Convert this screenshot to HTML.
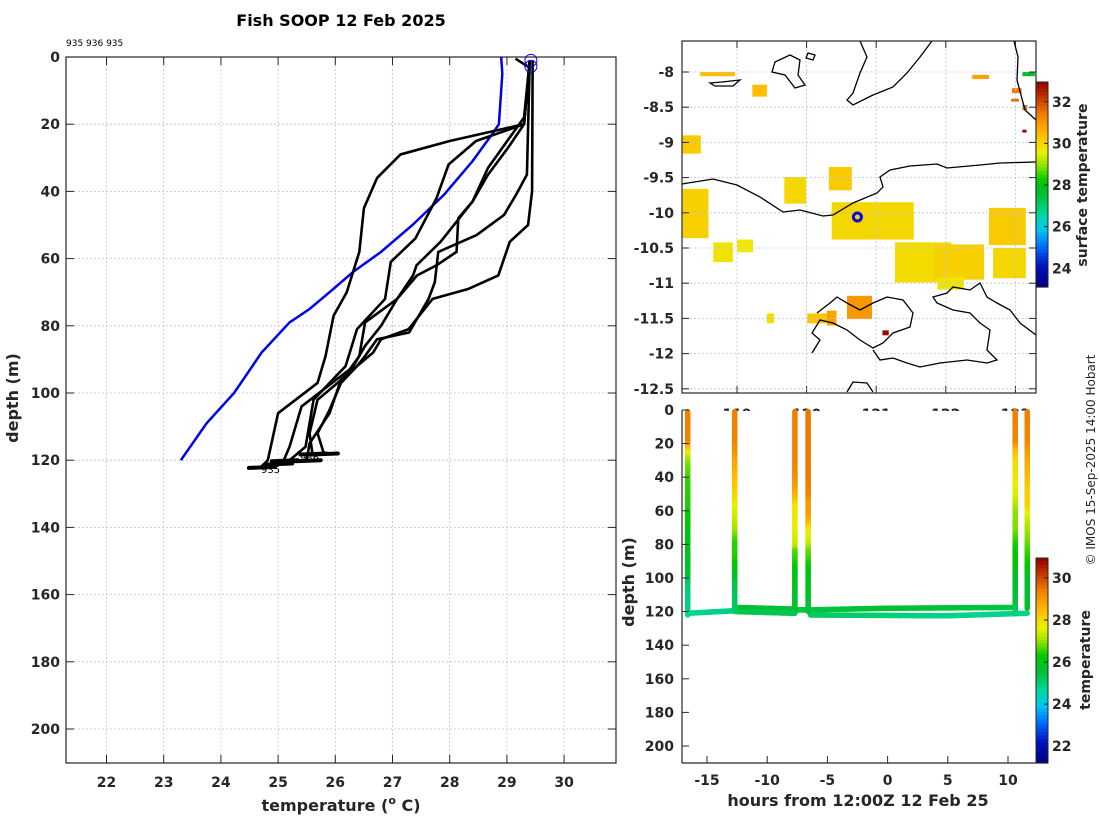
<!DOCTYPE html>
<html><head><meta charset="utf-8"><title>Fish SOOP 12 Feb 2025</title>
<style>
html,body{margin:0;padding:0;background:#fff;}
svg{display:block;font-family:"DejaVu Sans","Liberation Sans",sans-serif;}
.tk{font-size:14px;font-weight:bold;fill:#262626;}
.lbl{font-size:16px;font-weight:bold;fill:#262626;}
</style></head>
<body>
<svg id="fig" width="1100" height="820" viewBox="0 0 1100 820" xmlns="http://www.w3.org/2000/svg">
<rect x="0" y="0" width="1100" height="820" fill="#fff"/>
<text x="341" y="26" text-anchor="middle" style="font-size:16px;font-weight:bold;fill:#000">Fish SOOP 12 Feb 2025</text>
<text x="66" y="46" style="font-size:9px;fill:#000">935 936 935</text>
<g id="left"></g>
<g id="map"></g>
<g id="sect"></g>
<text class="lbl" transform="translate(18,398) rotate(-90)" text-anchor="middle">depth (m)</text>
<text class="lbl" x="341" y="811" text-anchor="middle">temperature (<tspan dy="-7" style="font-size:11px">o</tspan><tspan dy="7"> C)</tspan></text>
<text class="lbl" transform="translate(634,582) rotate(-90)" text-anchor="middle">depth (m)</text>
<text class="lbl" x="858" y="806" text-anchor="middle">hours from 12:00Z 12 Feb 25</text>
<text transform="translate(1087,185) rotate(-90)" text-anchor="middle" style="font-size:14px;font-weight:bold;fill:#262626">surface temperature</text>
<text transform="translate(1090,660) rotate(-90)" text-anchor="middle" style="font-size:14px;font-weight:bold;fill:#262626">temperature</text>
<text transform="translate(1095,460) rotate(-90)" text-anchor="middle" style="font-size:12px;fill:#262626">© IMOS 15-Sep-2025 14:00 Hobart</text>
</svg>
<script>
// ---------- data ----------
const tempTicks = [22,23,24,25,26,27,28,29,30];
const depthTicks = [0,20,40,60,80,100,120,140,160,180,200];
const climDepth = [0,5,20,23,31,41,50,58,64,70,75,79,88,100,109,120];
const climTemp  = [28.9,28.92,28.86,28.74,28.4,27.9,27.35,26.8,26.31,25.9,25.55,25.2,24.71,24.23,23.75,23.3];
const castDepth = [
 [1,20,25,29,36,45,58,70,77,89,97,106,120,122],
 [1,20,25,32,42,54,61,72,81,92,102,116,120,121],
 [1,40,50,55,65,69,72,81,84,88,96,106,115,120],
 [1,18,23,33,43,48,58,62,65,72,80,86,94,102,112,118],
 [1,35,41,47,53,58,67,72,82,84,89,92,97,105,112,118],
 [1,20,27,35,43,49,55,62,65,72,79,89,93,104,116,120]
];
const castTemp = [
 [29.4,29.3,28.0,27.14,26.73,26.5,26.42,26.2,25.97,25.83,25.69,25.0,24.82,24.7],
 [29.4,29.3,28.46,27.98,27.77,27.4,26.97,26.87,26.38,26.18,25.62,25.48,25.2,25.0],
 [29.45,29.44,29.37,29.05,28.85,28.33,27.7,27.28,26.8,26.66,26.1,25.9,25.55,25.5],
 [29.4,29.3,29.09,28.67,28.4,28.15,28.12,27.77,27.43,27.08,26.8,26.52,26.25,25.69,25.55,25.6],
 [29.4,29.35,29.16,28.95,28.47,27.8,27.74,27.63,27.29,26.73,26.52,26.38,26.1,25.9,25.69,25.8],
 [29.4,29.3,29.02,28.67,28.4,28.12,27.84,27.42,27.36,27.08,26.52,26.42,26.25,25.41,25.2,25.1]
];
const castHours = [-16.6,10.6,-6.6,11.6,-7.7,-12.7];
const towHours = [[-16.6,-12.7],[-12.7,-7.7],[-12.5,-7.7],[-7.7,-6.6],[-6.6,0,10.6],[-6.4,5,11.6]];
const towDepth = [[121,119.5],[117.5,118.5],[120,121],[119,119],[119,118,117.5],[122,122.5,121]];
const towTemp  = [[24.7,24.9],[25.6,25.5],[25.4,25.3],[25.4,25.4],[25.4,25.6,25.4],[25.2,24.8,24.8]];
const hourTicks = [-15,-10,-5,0,5,10];
const lonTicks = [119,120,121,122,123];
const latTicks = [-8,-8.5,-9,-9.5,-10,-10.5,-11,-11.5,-12,-12.5];
const sstTicks = [24,26,28,30,32];
const secCbTicks = [22,24,26,28,30];
// SST patches: lon, lat(top), width deg, height deg, temperature
const sstLon = [118.22,118.22,118.66,119.0,119.68,120.32,120.36,121.27,121.84,122.62,122.68,121.88,118.47,119.22,120.58,120.01,122.95,122.94,123.10,123.10,123.10,122.38,119.43,121.09,120.29];
const sstLat = [-9.66,-8.90,-10.42,-10.38,-9.49,-9.35,-9.85,-10.42,-10.45,-9.93,-10.50,-10.91,-8.0,-8.18,-11.18,-11.43,-8.23,-8.38,-8.47,-8.0,-8.82,-8.04,-11.43,-11.67,-11.39];
const sstW = [0.37,0.26,0.28,0.23,0.31,0.33,1.18,0.81,0.71,0.53,0.47,0.38,0.5,0.21,0.36,0.33,0.14,0.11,0.07,0.18,0.06,0.24,0.1,0.09,0.14];
const sstH = [0.70,0.26,0.28,0.18,0.38,0.33,0.53,0.57,0.5,0.53,0.43,0.18,0.06,0.17,0.33,0.14,0.07,0.04,0.07,0.06,0.04,0.06,0.14,0.07,0.21];
const sstT = [30.1,30.2,29.8,29.7,30.0,30.2,30.0,29.9,30.1,30.2,30.0,29.8,30.4,30.4,31.0,30.3,31.4,31.6,31.7,27.6,32.9,30.8,29.9,32.8,30.8];
const shipLon = 120.73, shipLat = -10.06;

// ---------- helpers ----------
const NS='http://www.w3.org/2000/svg';
function mk(parent,tag,attrs){const e=document.createElementNS(NS,tag);for(const k in attrs)e.setAttribute(k,attrs[k]);parent.appendChild(e);return e;}
const stops=[[0,[0,0,122]],[0.1,[0,16,192]],[0.2,[0,112,255]],[0.28,[0,200,240]],[0.35,[0,216,160]],[0.45,[0,192,48]],[0.52,[0,200,0]],[0.6,[160,230,0]],[0.66,[235,240,0]],[0.74,[255,190,0]],[0.84,[240,128,0]],[0.93,[192,48,0]],[1,[144,0,0]]];
function cmap(t){t=Math.max(0,Math.min(1,t));for(let i=1;i<stops.length;i++){if(t<=stops[i][0]){const a=stops[i-1],b=stops[i],f=(t-a[0])/(b[0]-a[0]);const c=a[1].map((v,j)=>Math.round(v+(b[1][j]-v)*f));return 'rgb('+c.join(',')+')';}}return 'rgb(144,0,0)';}

// ---------- left profile panel ----------
(function(){
const g=document.getElementById('left');
const L=66,R=616,T=57,B=763;
const X=t=>106.5+(t-22)*57.2, Y=d=>57+d*3.36;
tempTicks.forEach(t=>{const x=X(t);
 const gl=mk(g,'line',{x1:x,x2:x,y1:T,y2:B,stroke:'#b8c4ea','stroke-width':0.8,'stroke-dasharray':'2,2'});
 
 mk(g,'line',{x1:x,x2:x,y1:B,y2:B-8,stroke:'#262626'});mk(g,'line',{x1:x,x2:x,y1:T,y2:T+8,stroke:'#262626'});
 const tx=mk(g,'text',{x:x,y:B+24,'text-anchor':'middle',class:'tk'});tx.textContent=t;
 });
depthTicks.forEach(d=>{const y=Y(d);
 const gl=mk(g,'line',{x1:L,x2:R,y1:y,y2:y,stroke:'#b8c4ea','stroke-width':0.8,'stroke-dasharray':'2,2'});
 
 mk(g,'line',{x1:L,x2:L+8,y1:y,y2:y,stroke:'#262626'});mk(g,'line',{x1:R,x2:R-8,y1:y,y2:y,stroke:'#262626'});
 const tx=mk(g,'text',{x:L-6,y:y+5,'text-anchor':'end',class:'tk'});tx.textContent=d;
 });
const box=mk(g,'rect',{x:L,y:T,width:R-L,height:B-T,fill:'none',stroke:'#262626','stroke-width':1.2});

const cl=mk(g,'polyline',{points:climDepth.map((d,i)=>X(climTemp[i])+','+Y(d)).join(' '),fill:'none',stroke:'#0000ee','stroke-width':2.5});

castDepth.forEach((ds,k)=>{
 const pl=mk(g,'polyline',{points:ds.map((d,i)=>X(castTemp[k][i])+','+Y(d)).join(' '),fill:'none',stroke:'#000','stroke-width':2.6,'stroke-linejoin':'round'});
 
 const last=ds.length-1;
 const sc=mk(g,'line',{x1:X(castTemp[k][last])-12,x2:X(castTemp[k][last])+14,y1:Y(ds[last])+1,y2:Y(ds[last]),stroke:'#000','stroke-width':4,'stroke-linecap':'round'});
 
});
mk(g,'line',{x1:X(29.15),y1:Y(0.5),x2:X(29.38),y2:Y(3),stroke:'#000','stroke-width':2.5});
[[29.42,1],[29.42,2.8]].forEach(p=>{const c=mk(g,'circle',{cx:X(p[0]),cy:Y(p[1]),r:6,fill:'none',stroke:'#0000ee','stroke-width':1});
 });
const t1=mk(g,'text',{x:300,y:461,style:'font-size:10px;fill:#000'});t1.textContent='936';

const t2=mk(g,'text',{x:261,y:473,style:'font-size:10px;fill:#000'});t2.textContent='935';

})();

// ---------- SST map ----------
(function(){
const g=document.getElementById('map');
const L=682,R=1036,T=41,B=393;
const X=lon=>737+(lon-119)*69.6, Y=lat=>72+(-8-lat)*70.4;
const cmin=23.1,cmax=32.95;
sstLon.forEach((lo,i)=>{const r=mk(g,'rect',{x:X(lo),y:Y(sstLat[i]),width:sstW[i]*69.6,height:sstH[i]*70.4,fill:cmap((sstT[i]-cmin)/(cmax-cmin))});
 });
lonTicks.forEach(l=>{const x=X(l);
 mk(g,'line',{x1:x,x2:x,y1:T,y2:B,stroke:'#b8c4ea','stroke-width':0.8,'stroke-dasharray':'2,2'});
 mk(g,'line',{x1:x,x2:x,y1:B,y2:B-7,stroke:'#262626'});mk(g,'line',{x1:x,x2:x,y1:T,y2:T+7,stroke:'#262626'});
 const tx=mk(g,'text',{x:x,y:419,'text-anchor':'middle',class:'tk'});tx.textContent=l;
 });
latTicks.forEach(l=>{const y=Y(l);
 mk(g,'line',{x1:L,x2:R,y1:y,y2:y,stroke:'#b8c4ea','stroke-width':0.8,'stroke-dasharray':'2,2'});
 mk(g,'line',{x1:L,x2:L+7,y1:y,y2:y,stroke:'#262626'});mk(g,'line',{x1:R,x2:R-7,y1:y,y2:y,stroke:'#262626'});
 const tx=mk(g,'text',{x:L-8,y:y+5,'text-anchor':'end',class:'tk'});tx.textContent=l;
 });
const coasts=[
 'M682,184 L713,179 L737,185 L760,197 L783,212 L800,210 L823,216 L833,215 L853,203 L877,193 L883,187 L880,177 L890,170 L910,166 L937,164 L947,168 L980,165 L1000,163 L1036,162',
 'M1014,41 L1018,57 L1017,80 L1025,110 L1036,120',
 'M860,41 L867,57 L860,73 L853,93 L847,100 L853,105 L873,95 L893,87 L907,73 L920,57 L932,41',
 'M775,62 L790,55 L800,60 L798,75 L805,85 L795,88 L785,75 L772,72 Z',
 'M808,53 L815,55 L813,60 L806,58 Z',
 'M710,83 L722,82 L740,80 L733,86 L715,86 Z',
 'M817,313 L830,303 L837,297 L847,303 L860,310 L873,303 L887,297 L903,300 L913,313 L910,327 L893,333 L883,343 L873,348 L860,340 L847,330 L833,323 L820,320 L812,333 L820,340 L812,353',
 'M873,350 L880,360 L893,358 L907,363 L920,367 L940,363 L967,360 L987,363 L997,360 L987,350 L990,330 L980,323 L970,313 L953,310 L937,303 L933,297 L947,293 L953,287 L970,290 L980,283 L987,297 L997,303 L1010,310 L1020,323 L1036,335',
 'M847,392 L853,382 L867,383 L873,392'
];
coasts.forEach(d=>{const p=mk(g,'path',{d:d,fill:'none',stroke:'#000','stroke-width':1.3});
 });
const sh=mk(g,'circle',{cx:X(shipLon),cy:Y(shipLat),r:4,fill:'none',stroke:'#0000ee','stroke-width':3});

const box=mk(g,'rect',{x:L,y:T,width:R-L,height:B-T,fill:'none',stroke:'#262626','stroke-width':1.2});

const cT=82,cB=287,cx=1036,cw=12;
for(let i=0;i<60;i++){const y0=cT+(cB-cT)*i/60;mk(g,'rect',{x:cx,y:y0,width:cw,height:(cB-cT)/60+0.6,fill:cmap(1-(i+0.5)/60)});}
const cb=mk(g,'rect',{x:cx,y:cT,width:cw,height:cB-cT,fill:'none',stroke:'#262626','stroke-width':1});

sstTicks.forEach(v=>{const y=cB-(v-cmin)/(cmax-cmin)*(cB-cT);
 mk(g,'line',{x1:cx+cw,x2:cx+cw-4,y1:y,y2:y,stroke:'#262626'});
 const tx=mk(g,'text',{x:cx+cw+4,y:y+5,class:'tk'});tx.textContent=v;
 });
})();

// ---------- section panel ----------
(function(){
const g=document.getElementById('sect');
const L=682,R=1036,T=410,B=763;
const bg=mk(g,'rect',{x:L,y:T+1,width:R-L,height:B-T,fill:'#fff'});

const X=h=>707+(h+15)*12.04, Y=d=>410+d*1.68;
const cmin=21.2,cmax=30.95;
const C=t=>cmap((t-cmin)/(cmax-cmin));
function seg(x1,y1,x2,y2,col){return mk(g,'line',{x1:x1,y1:y1,x2:x2,y2:y2,stroke:col,'stroke-width':5.5,'stroke-linecap':'round'});}
towHours.forEach((hs,k)=>{for(let i=0;i<hs.length-1;i++){
 const n=20;for(let j=0;j<n;j++){const f0=j/n,f1=(j+1)/n;
  const h0=hs[i]+(hs[i+1]-hs[i])*f0,h1=hs[i]+(hs[i+1]-hs[i])*f1;
  const d0=towDepth[k][i]+(towDepth[k][i+1]-towDepth[k][i])*f0,d1=towDepth[k][i]+(towDepth[k][i+1]-towDepth[k][i])*f1;
  const t=towTemp[k][i]+(towTemp[k][i+1]-towTemp[k][i])*(f0+f1)/2;
  const l=seg(X(h0),Y(d0),X(h1),Y(d1),C(t));
  
  }}});
castHours.forEach((h,k)=>{const ds=castDepth[k],ts=castTemp[k];
 for(let i=0;i<ds.length-1;i++){
  const n=6;for(let j=0;j<n;j++){const f0=j/n,f1=(j+1)/n;
   const d0=ds[i]+(ds[i+1]-ds[i])*f0,d1=ds[i]+(ds[i+1]-ds[i])*f1;
   const t=ts[i]+(ts[i+1]-ts[i])*(f0+f1)/2;
   const l=seg(X(h),Y(d0),X(h),Y(d1),C(t));
   
   }}});
hourTicks.forEach(h=>{const x=X(h);
 mk(g,'line',{x1:x,x2:x,y1:B,y2:B-7,stroke:'#262626'});
 const tx=mk(g,'text',{x:x,y:B+22,'text-anchor':'middle',class:'tk'});tx.textContent=h;
 });
depthTicks.forEach(d=>{const y=Y(d);
 mk(g,'line',{x1:L,x2:L+7,y1:y,y2:y,stroke:'#262626'});
 const tx=mk(g,'text',{x:L-8,y:y+5,'text-anchor':'end',class:'tk'});tx.textContent=d;
 });
mk(g,'line',{x1:L,x2:L,y1:T,y2:B,stroke:'#262626','stroke-width':1.2});
mk(g,'line',{x1:L,x2:R,y1:B,y2:B,stroke:'#262626','stroke-width':1.2});
const cT=558,cB=763,cx=1036,cw=12;
for(let i=0;i<60;i++){const y0=cT+(cB-cT)*i/60;mk(g,'rect',{x:cx,y:y0,width:cw,height:(cB-cT)/60+0.6,fill:cmap(1-(i+0.5)/60)});}
const cb=mk(g,'rect',{x:cx,y:cT,width:cw,height:cB-cT,fill:'none',stroke:'#262626','stroke-width':1});

secCbTicks.forEach(v=>{const y=cB-(v-cmin)/(cmax-cmin)*(cB-cT);
 mk(g,'line',{x1:cx+cw,x2:cx+cw-4,y1:y,y2:y,stroke:'#262626'});
 const tx=mk(g,'text',{x:cx+cw+4,y:y+5,class:'tk'});tx.textContent=v;
 });
})();
</script>
</body></html>
